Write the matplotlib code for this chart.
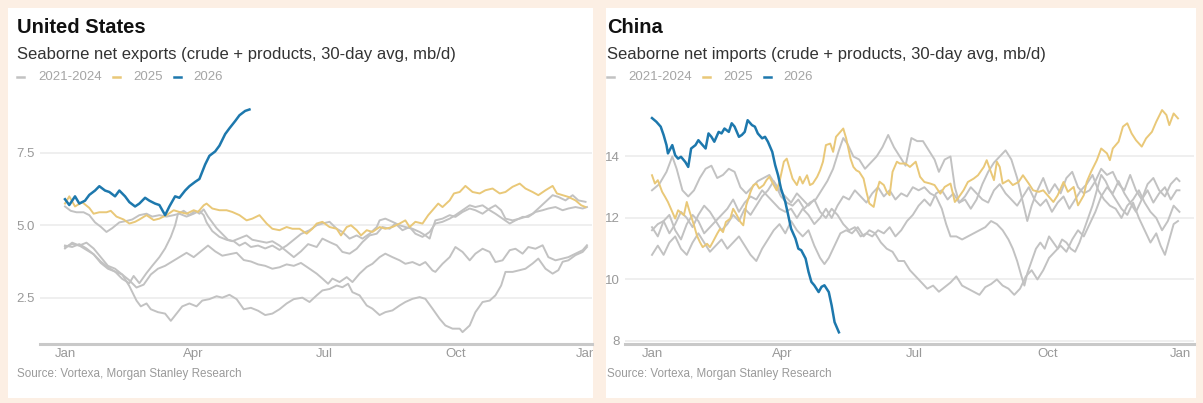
import matplotlib
matplotlib.use("Agg")
import matplotlib.pyplot as plt
from matplotlib.patches import Rectangle
from matplotlib.transforms import Bbox, TransformedBbox

plt.rcParams['font.family'] = ['Liberation Sans', 'DejaVu Sans']

# ---------------- data (day of year, value) ----------------
month_ticks = [0, 90, 181, 273, 365]
month_labels = ['Jan', 'Apr', 'Jul', 'Oct', 'Jan']
legend_labels = ['2021-2024', '2025', '2026']

# United States, seaborne net exports, mb/d
us_2026_days = [0, 3, 7, 10, 14, 17, 21, 24, 28, 31, 35, 38, 42, 45, 49, 52, 56, 59, 63, 66, 70, 73,
                77, 80, 84, 87, 91, 94, 98, 101, 105, 108, 112, 115, 119, 122, 126, 129]
us_2026 = [5.9, 5.7, 6.0, 5.75, 5.85, 6.05, 6.2, 6.35, 6.2, 6.15, 6.0, 6.2, 6.0, 5.8, 5.65, 5.75, 5.95,
           5.85, 5.75, 5.7, 5.35, 5.65, 6.0, 5.95, 6.2, 6.35, 6.5, 6.6, 7.1, 7.4, 7.55, 7.75, 8.15, 8.35,
           8.6, 8.8, 8.95, 9.0]

us_2025_days = [0, 3, 7, 12, 17, 20, 24, 29, 32, 36, 41, 45, 49, 52, 57, 62, 66, 71, 76, 80, 85, 90, 93,
                97, 99, 103, 108, 113, 117, 122, 127, 131, 136, 141, 145, 150, 155, 159, 164, 169,
                173, 176, 180, 185, 190, 193, 197, 200, 204, 207, 211, 215, 220, 224, 229, 234, 238,
                241, 245, 250, 254, 257, 261, 264, 269, 272, 276, 280, 285, 290, 294, 299, 304, 308,
                313, 318, 322, 327, 331, 336, 341, 344, 348, 352, 357, 361, 364]
us_2025 = [5.75, 6.0, 5.65, 5.8, 5.6, 5.4, 5.45, 5.45, 5.5, 5.3, 5.2, 5.06, 5.12, 5.2, 5.35, 5.18, 5.23,
           5.35, 5.52, 5.46, 5.4, 5.52, 5.46, 5.69, 5.75, 5.58, 5.52, 5.52, 5.46, 5.35, 5.17, 5.23,
           5.35, 5.06, 4.88, 4.83, 4.94, 4.88, 4.88, 4.71, 4.88, 5.06, 5.12, 4.94, 4.88, 4.65, 4.94,
           5.0, 4.83, 4.65, 4.83, 4.77, 4.94, 4.88, 4.94, 5.06, 5.17, 4.94, 5.12, 5.06, 5.35, 5.52,
           5.75, 5.63, 5.86, 6.1, 6.15, 6.36, 6.15, 6.1, 6.21, 6.27, 6.1, 6.15, 6.33, 6.44, 6.27, 6.15,
           6.04, 6.21, 6.36, 6.1, 6.04, 5.98, 5.86, 5.69, 5.63]

us_2021_days = [0, 4, 8, 13, 17, 21, 25, 29, 33, 38, 43, 47, 52, 57, 61, 66, 71, 76, 80, 85, 90, 94, 97,
                99, 103, 108, 113, 117, 122, 127, 131, 136, 141, 145, 150, 155, 160, 165, 170, 176,
                180, 185, 190, 194, 199, 204, 208, 213, 218, 222, 227, 231, 236, 241, 245, 250, 255,
                259, 264, 269, 273, 278, 283, 287, 292, 297, 301, 306, 311, 315, 320, 324, 329, 334,
                338, 343, 348, 352, 357, 362, 365]
us_2021 = [5.65, 5.5, 5.45, 5.45, 5.35, 5.1, 4.95, 4.77, 4.9, 5.1, 5.15, 5.2, 5.35, 5.4, 5.3, 5.35, 5.3,
           5.35, 5.4, 5.3, 5.4, 5.5, 5.35, 5.1, 4.8, 4.6, 4.5, 4.45, 4.55, 4.65, 4.5, 4.45, 4.4, 4.45,
           4.3, 4.1, 3.9, 4.1, 4.35, 4.25, 4.54, 4.42, 4.31, 4.08, 4.02, 4.19, 4.42, 4.65, 4.71, 4.94,
           4.88, 5.06, 4.83, 4.94, 4.71, 4.6, 4.77, 5.06, 5.12, 5.23, 5.35, 5.52, 5.69, 5.63, 5.69,
           5.52, 5.4, 5.23, 5.06, 5.17, 5.29, 5.29, 5.46, 5.52, 5.58, 5.63, 5.52, 5.58, 5.63, 5.58,
           5.63]

us_2022_days = [0, 5, 10, 15, 20, 25, 30, 35, 40, 45, 48, 52, 57, 61, 66, 70, 74, 77, 79, 83, 87, 91, 94,
                97, 100, 103, 106, 110, 114, 118, 122, 126, 130, 135, 140, 145, 150, 155, 160, 165,
                171, 176, 180, 185, 190, 194, 199, 204, 208, 213, 218, 220, 224, 229, 234, 238, 243,
                248, 252, 255, 257, 259, 264, 269, 273, 278, 283, 287, 292, 297, 301, 305, 308, 313,
                318, 322, 327, 331, 336, 341, 345, 350, 355, 359, 364]
us_2022 = [4.25, 4.35, 4.3, 4.15, 4.0, 3.7, 3.5, 3.4, 3.15, 3.0, 3.25, 3.0, 3.35, 3.6, 3.9, 4.2, 4.6,
           5.0, 5.4, 5.5, 5.35, 5.5, 5.4, 5.55, 5.3, 5.1, 4.9, 4.7, 4.5, 4.45, 4.3, 4.4, 4.25, 4.3,
           4.2, 4.3, 4.15, 4.3, 4.5, 4.7, 4.83, 5.0, 5.06, 5.12, 4.88, 4.77, 4.54, 4.65, 4.54, 4.71,
           4.94, 5.17, 5.23, 5.12, 5.0, 4.94, 4.88, 4.77, 4.65, 4.54, 4.88, 5.17, 5.23, 5.35, 5.29,
           5.46, 5.58, 5.52, 5.4, 5.58, 5.69, 5.52, 5.23, 5.17, 5.23, 5.29, 5.4, 5.58, 5.81, 6.04,
           5.98, 5.86, 6.04, 5.86, 5.81]

us_2023_days = [0, 5, 10, 15, 20, 25, 30, 35, 40, 45, 50, 53, 57, 60, 65, 70, 74, 78, 82, 87, 92, 96,
                101, 106, 110, 115, 120, 125, 130, 135, 140, 145, 150, 155, 160, 166, 171, 176, 180,
                185, 190, 194, 198, 201, 206, 211, 215, 220, 224, 229, 234, 238, 243, 248, 252, 257,
                262, 266, 271, 276, 278, 283, 287, 292, 297, 301, 305, 308, 313, 318, 322, 327, 331,
                336, 341, 345, 348, 352, 357, 362, 365]
us_2023 = [4.2, 4.4, 4.3, 4.4, 4.2, 3.9, 3.6, 3.5, 3.3, 2.9, 2.4, 2.2, 2.3, 2.1, 2.0, 1.95, 1.7, 1.95,
           2.2, 2.3, 2.2, 2.4, 2.45, 2.55, 2.5, 2.6, 2.45, 2.1, 2.15, 2.05, 1.9, 1.95, 2.1, 2.3, 2.45,
           2.5, 2.35, 2.58, 2.75, 2.8, 2.92, 2.86, 2.98, 2.69, 2.58, 2.23, 2.12, 1.9, 2.0, 2.06, 2.23,
           2.35, 2.46, 2.52, 2.46, 2.12, 1.77, 1.54, 1.43, 1.43, 1.31, 1.54, 2.0, 2.35, 2.4, 2.58,
           2.92, 3.39, 3.39, 3.45, 3.5, 3.68, 3.85, 3.5, 3.33, 3.45, 3.74, 3.79, 3.97, 4.08, 4.25]

us_2024_days = [0, 5, 10, 15, 20, 25, 30, 35, 40, 45, 50, 55, 60, 65, 70, 75, 80, 85, 90, 95, 100, 105,
                110, 115, 120, 125, 130, 135, 140, 145, 150, 155, 160, 165, 171, 176, 180, 184, 187,
                192, 197, 201, 206, 211, 215, 220, 224, 229, 234, 238, 243, 248, 252, 257, 259, 264,
                269, 273, 278, 283, 287, 292, 297, 301, 306, 311, 315, 320, 324, 329, 334, 338, 343,
                348, 352, 357, 362, 365]
us_2024 = [4.3, 4.25, 4.35, 4.2, 4.0, 3.75, 3.55, 3.4, 3.3, 3.1, 2.85, 2.95, 3.3, 3.5, 3.6, 3.75, 3.9,
           4.05, 3.9, 4.1, 4.3, 4.1, 3.95, 4.0, 4.05, 3.8, 3.75, 3.65, 3.6, 3.5, 3.55, 3.65, 3.6, 3.7,
           3.5, 3.33, 3.16, 2.98, 3.16, 3.04, 3.21, 3.04, 3.33, 3.56, 3.67, 3.9, 4.02, 3.9, 3.79, 3.67,
           3.73, 3.62, 3.73, 3.44, 3.39, 3.67, 3.9, 4.25, 4.08, 3.79, 4.02, 4.19, 4.08, 3.73, 3.79,
           4.14, 4.19, 4.02, 4.25, 4.19, 4.31, 3.9, 3.79, 3.85, 3.9, 4.02, 4.14, 4.31]

# China, seaborne net imports, mb/d
cn_2026_days = [0, 3, 6, 8, 10, 11, 14, 16, 18, 20, 23, 25, 27, 30, 32, 34, 37, 39, 41, 43, 46, 48, 50,
                53, 55, 57, 60, 62, 64, 66, 69, 71, 73, 76, 78, 80, 83, 85, 87, 89, 92, 94, 96, 99,
                101, 103, 106, 108, 110, 112, 115, 117, 119, 122, 124, 126, 129]
cn_2026 = [15.25, 15.13, 14.97, 14.7, 14.37, 14.1, 14.37, 14.04, 13.93, 13.99, 13.82, 13.66, 14.26,
           14.37, 14.53, 14.42, 14.26, 14.75, 14.64, 14.48, 14.8, 14.75, 14.91, 14.8, 15.08, 14.97,
           14.64, 14.7, 14.8, 15.18, 15.02, 14.97, 14.75, 14.59, 14.64, 14.48, 14.15, 13.72, 13.39,
           12.96, 12.52, 12.09, 11.65, 11.33, 11.0, 10.95, 10.68, 10.25, 9.92, 9.81, 9.59, 9.76, 9.81,
           9.59, 9.15, 8.61, 8.28]

cn_2025_days = [0, 2, 4, 7, 9, 11, 14, 16, 18, 22, 24, 26, 29, 31, 33, 35, 38, 40, 42, 45, 47, 49, 51,
                54, 56, 58, 61, 63, 65, 68, 70, 72, 74, 77, 79, 81, 84, 86, 88, 91, 93, 95, 97, 100,
                102, 104, 107, 109, 111, 114, 116, 118, 120, 123, 125, 127, 130, 132, 134, 137, 139,
                141, 143, 146, 148, 150, 153, 155, 157, 160, 162, 164, 166, 169, 171, 175, 178, 182,
                185, 188, 192, 195, 199, 202, 206, 209, 211, 215, 218, 222, 225, 229, 231, 233, 236,
                238, 240, 242, 246, 249, 253, 256, 260, 263, 267, 270, 273, 277, 280, 284, 287, 291,
                294, 298, 300, 303, 307, 310, 314, 316, 318, 322, 325, 328, 331, 334, 338, 341, 345,
                348, 352, 355, 357, 360, 363]
cn_2025 = [13.39, 13.12, 13.23, 12.85, 12.69, 12.52, 12.2, 11.98, 12.25, 12.09, 12.52, 12.2, 11.76,
           11.43, 11.22, 11.05, 11.16, 11.05, 11.22, 11.49, 11.65, 11.54, 11.87, 11.98, 12.3, 12.14,
           11.87, 11.76, 12.41, 12.85, 13.07, 13.12, 12.96, 13.07, 13.23, 13.34, 13.07, 12.9, 13.18,
           13.83, 13.93, 13.61, 13.28, 13.07, 13.34, 13.12, 13.39, 13.07, 13.12, 13.34, 13.55, 13.83,
           14.37, 14.42, 14.15, 14.64, 14.8, 14.91, 14.59, 13.93, 13.66, 13.55, 13.5, 13.28, 12.85,
           12.47, 12.36, 12.85, 13.18, 13.07, 12.85, 12.74, 13.5, 13.83, 13.77, 13.77, 13.66, 13.83,
           13.34, 13.17, 13.12, 13.07, 12.79, 13.01, 13.12, 12.52, 12.63, 12.9, 13.17, 13.28, 13.39,
           13.66, 13.88, 13.61, 13.23, 13.83, 13.66, 13.12, 13.23, 13.07, 13.17, 13.39, 13.12, 12.9,
           12.85, 12.9, 12.74, 12.52, 12.74, 13.17, 12.85, 13.01, 12.41, 12.74, 13.17, 13.5, 13.88,
           14.26, 14.1, 13.88, 14.26, 14.48, 14.97, 15.08, 14.75, 14.53, 14.32, 14.59, 14.8, 15.13,
           15.51, 15.35, 15.02, 15.4, 15.24]

cn_2021_days = [0, 5, 10, 14, 17, 21, 25, 29, 33, 37, 41, 45, 49, 53, 57, 61, 65, 69, 73, 77, 81, 85,
                89, 93, 97, 101, 105, 109, 113, 117, 121, 125, 129, 132, 135, 139, 143, 147, 151, 155,
                159, 163, 167, 171, 175, 179, 183, 187, 191, 195, 198, 202, 206, 209, 212, 216, 220,
                224, 228, 232, 236, 240, 244, 248, 252, 256, 259, 262, 266, 270, 274, 278, 282, 286,
                290, 294, 298, 302, 306, 310, 314, 318, 322, 326, 330, 334, 338, 342, 346, 350, 354,
                358, 362, 364]
cn_2021 = [12.9, 13.1, 13.5, 14.0, 13.6, 12.9, 12.7, 12.9, 13.3, 13.6, 13.7, 13.3, 13.4, 13.6, 13.5,
           13.0, 12.8, 13.0, 13.2, 13.3, 13.4, 13.1, 12.7, 12.5, 12.4, 12.6, 12.3, 12.5, 12.6, 12.9,
           13.2, 13.6, 14.2, 14.6, 14.4, 14.0, 13.9, 13.6, 13.8, 14.0, 14.3, 14.7, 14.3, 14.0, 13.7,
           14.6, 14.5, 14.5, 14.2, 13.9, 13.5, 13.9, 14.0, 13.0, 12.5, 12.6, 12.3, 12.6, 13.1, 13.5,
           13.8, 14.0, 14.2, 13.9, 13.3, 12.5, 11.9, 12.4, 12.9, 13.3, 12.8, 13.1, 12.8, 13.3, 13.5,
           13.0, 12.8, 12.9, 13.2, 13.6, 13.4, 13.5, 13.1, 12.9, 13.4, 12.9, 12.6, 13.1, 13.3, 12.9,
           12.7, 13.1, 13.3, 13.2]

cn_2022_days = [0, 4, 8, 12, 16, 20, 24, 28, 32, 36, 40, 44, 48, 52, 56, 60, 64, 68, 72, 76, 80, 84, 88,
                92, 96, 100, 104, 108, 112, 116, 120, 124, 128, 132, 136, 140, 144, 148, 152, 156,
                160, 164, 168, 172, 176, 180, 184, 188, 192, 196, 200, 203, 206, 210, 214, 218, 222,
                226, 230, 234, 238, 242, 246, 249, 252, 255, 257, 259, 262, 265, 268, 271, 274, 277,
                280, 283, 286, 289, 292, 295, 298, 301, 304, 307, 310, 313, 316, 320, 324, 328, 332,
                336, 340, 344, 348, 351, 354, 357, 360, 363]
cn_2022 = [11.6, 11.8, 11.9, 11.5, 11.8, 12.2, 12.0, 11.7, 12.1, 12.4, 12.2, 11.9, 12.1, 12.3, 12.6,
           12.2, 12.5, 12.7, 12.6, 12.9, 12.7, 12.5, 12.3, 12.2, 12.3, 12.0, 12.3, 12.1, 11.8, 12.0,
           12.3, 12.0, 12.4, 12.7, 12.6, 12.9, 12.7, 12.5, 12.8, 13.0, 12.7, 12.9, 12.6, 12.8, 12.7,
           13.0, 12.9, 13.0, 12.8, 12.7, 12.3, 11.8, 11.4, 11.4, 11.3, 11.4, 11.5, 11.6, 11.7, 11.9,
           11.8, 11.6, 11.3, 11.0, 10.6, 10.1, 9.8, 10.2, 10.6, 11.0, 11.2, 11.0, 11.4, 11.2, 11.0,
           11.3, 11.2, 11.0, 10.9, 11.2, 11.6, 12.0, 12.4, 12.9, 13.4, 13.2, 12.9, 12.6, 12.3, 12.1,
           12.5, 12.0, 11.6, 11.2, 11.5, 11.1, 10.8, 11.3, 11.8, 11.9]

cn_2023_days = [0, 4, 8, 12, 16, 20, 24, 28, 32, 36, 40, 44, 48, 52, 56, 60, 64, 68, 72, 76, 80, 84, 88,
                92, 96, 100, 104, 108, 112, 116, 120, 124, 128, 132, 136, 140, 144, 148, 152, 156,
                160, 164, 168, 172, 176, 180, 184, 188, 192, 196, 200, 204, 208, 212, 216, 220, 224,
                228, 232, 236, 240, 244, 248, 252, 256, 260, 264, 268, 272, 276, 280, 284, 288, 292,
                296, 300, 304, 308, 312, 316, 320, 324, 328, 332, 336, 340, 344, 348, 352, 356, 360,
                364]
cn_2023 = [11.7, 11.4, 11.9, 12.1, 11.6, 11.3, 11.8, 12.1, 11.9, 11.5, 11.7, 11.9, 11.6, 11.8, 12.1,
           11.9, 12.3, 12.1, 12.4, 12.7, 12.9, 13.2, 12.9, 12.7, 12.5, 12.8, 12.6, 12.4, 12.6, 12.2,
           12.0, 12.3, 12.1, 11.8, 11.6, 11.7, 11.4, 11.5, 11.4, 11.6, 11.5, 11.7, 11.4, 11.6, 11.9,
           12.1, 12.4, 12.6, 12.4, 12.8, 12.9, 12.6, 12.8, 12.5, 12.7, 13.0, 12.8, 12.6, 12.5, 12.9,
           13.1, 12.8, 12.6, 12.4, 12.7, 13.0, 12.6, 12.4, 12.6, 12.2, 12.5, 12.7, 12.3, 12.6, 12.9,
           13.1, 13.4, 12.9, 12.6, 12.4, 12.3, 12.0, 12.4, 12.6, 12.9, 12.5, 12.2, 12.0, 11.6, 11.9,
           12.4, 12.2]

cn_2024_days = [0, 4, 8, 12, 16, 20, 24, 28, 32, 36, 40, 44, 48, 52, 56, 60, 64, 68, 72, 76, 80, 84, 88,
                92, 96, 100, 104, 108, 112, 116, 119, 122, 126, 130, 134, 138, 142, 146, 150, 154,
                158, 162, 166, 170, 174, 178, 182, 186, 190, 194, 198, 202, 206, 210, 214, 218, 222,
                226, 230, 234, 238, 242, 246, 250, 254, 258, 262, 266, 270, 274, 278, 282, 286, 290,
                294, 298, 302, 306, 310, 314, 318, 322, 326, 330, 334, 338, 342, 346, 350, 354, 358,
                362, 364]
cn_2024 = [10.8, 11.1, 10.8, 11.2, 11.4, 11.0, 10.8, 11.2, 11.5, 11.2, 10.9, 11.1, 11.3, 11.0, 11.2,
           11.4, 11.1, 10.8, 10.6, 11.0, 11.3, 11.6, 11.8, 11.5, 11.9, 11.6, 11.4, 11.6, 11.1, 10.7,
           10.5, 10.7, 11.1, 11.5, 11.6, 11.5, 11.7, 11.4, 11.6, 11.5, 11.2, 11.0, 10.9, 10.6, 10.6,
           10.3, 10.1, 9.9, 9.7, 9.8, 9.6, 9.75, 9.9, 10.1, 9.8, 9.7, 9.6, 9.5, 9.75, 9.85, 10.0, 9.8,
           9.7, 9.5, 9.7, 10.1, 10.3, 10.0, 10.3, 10.7, 10.9, 11.1, 10.9, 11.3, 11.6, 11.4, 11.8,
           12.2, 12.7, 13.0, 12.8, 13.2, 12.8, 12.5, 12.2, 12.6, 12.9, 12.5, 12.8, 13.0, 12.6, 12.9,
           12.9]

us_grey = [(us_2021_days, us_2021), (us_2022_days, us_2022), (us_2023_days, us_2023), (us_2024_days, us_2024)]
cn_grey = [(cn_2021_days, cn_2021), (cn_2022_days, cn_2022), (cn_2023_days, cn_2023), (cn_2024_days, cn_2024)]

# ---------------- style ----------------
W, H = 1203, 403
BG = '#fcefe4'
GREY_LINE = '#c2c2c2'
YELLOW = '#e9c878'
BLUE = '#1d78ad'
TICK_COL = '#999999'

fig = plt.figure(figsize=(W / 100, H / 100), dpi=100, facecolor=BG)


def fig_rect(x0, y0, x1, y1):
    # pixel box (top-left origin) -> figure fraction [l, b, w, h]
    return [x0 / W, 1 - y1 / H, (x1 - x0) / W, (y1 - y0) / H]


def fig_text(x, y, s, clip=None, **kw):
    t = fig.text(x / W, 1 - y / H, s, **kw)
    if clip is not None:
        t.set_clip_box(clip)
        t.set_clip_on(True)
    return t


def panel(x0, x1):
    r = fig_rect(x0, 8, x1, 398)
    fig.add_artist(Rectangle((r[0], r[1]), r[2], r[3], transform=fig.transFigure,
                             facecolor='white', edgecolor='none', zorder=0))
    return TransformedBbox(Bbox([[r[0], r[1]], [r[0] + r[2], r[1] + r[3]]]), fig.transFigure)


def draw(px, clip, title, subtitle, greys, yellow, blue, ylim, yticks, ytick_labels, day0, px_day, ax_x0, ax_x1):
    ax = fig.add_axes(fig_rect(ax_x0, 95, ax_x1, 344))
    ax.set_facecolor('none')
    for d, v in greys:
        ax.plot(d, v, color=GREY_LINE, lw=1.4, zorder=2)
    ax.plot(yellow[0], yellow[1], color=YELLOW, lw=1.4, zorder=3)
    ax.plot(blue[0], blue[1], color=BLUE, lw=1.8, zorder=4)

    ax.set_xlim((ax_x0 - day0) / px_day, (ax_x1 - day0) / px_day)
    ax.set_ylim(*ylim)
    ax.set_xticks(month_ticks)
    ax.set_xticklabels(month_labels)
    ax.set_yticks(yticks)
    ax.set_yticklabels(ytick_labels)
    ax.tick_params(axis='both', length=0, colors=TICK_COL, labelsize=9.5)
    ax.tick_params(axis='y', pad=4)
    ax.tick_params(axis='x', pad=3)
    ax.grid(axis='y', color='#ebebeb', lw=1.1, zorder=1)
    for s in ['top', 'right', 'left']:
        ax.spines[s].set_visible(False)
    ax.spines['bottom'].set_color('#c9c9c9')
    ax.spines['bottom'].set_linewidth(2.2)
    for tk in ax.xaxis.get_major_ticks() + ax.yaxis.get_major_ticks():
        tk.label1.set_clip_box(clip)
        tk.label1.set_clip_on(True)

    fig_text(px + 9, 33, title, clip, fontsize=14.5, fontweight='bold', color='#111111', va='baseline')
    fig_text(px + 9, 59, subtitle, clip, fontsize=12, color='#333333', va='baseline')
    # legend row
    colors = [GREY_LINE, YELLOW, BLUE]
    lab_x = [px + 30, px + 125, px + 185]
    seg_x = [px + 9, px + 105, px + 166]
    for lx, sx, c, lab in zip(lab_x, seg_x, colors, legend_labels):
        ln = plt.Line2D([sx / W, (sx + 7) / W], [1 - 77 / H, 1 - 77 / H], transform=fig.transFigure,
                        color=c, lw=1.8)
        ln.set_clip_box(clip)
        ln.set_clip_on(True)
        fig.add_artist(ln)
        fig_text(lx, 77, lab, clip, fontsize=9.5, color='#a5a5a5', va='center')
    fig_text(px + 9, 374, 'Source: Vortexa, Morgan Stanley Research', clip, fontsize=8.4,
             color='#9a9a9a', va='center')
    return ax


clip_us = panel(8, 593)
clip_cn = panel(606, 1196)

draw(8, clip_us, 'United States', 'Seaborne net exports (crude + products, 30-day avg, mb/d)',
     us_grey, (us_2025_days, us_2025), (us_2026_days, us_2026),
     (0.9, 9.5), [2.5, 5.0, 7.5], ['2.5', '5.0', '7.5'], 65, 1.43, 40, 592)

draw(598, clip_cn, 'China', 'Seaborne net imports (crude + products, 30-day avg, mb/d)',
     cn_grey, (cn_2025_days, cn_2025), (cn_2026_days, cn_2026),
     (7.9, 16.0), [8, 10, 12, 14], ['8', '10', '12', '14'], 652, 1.449, 625, 1194)

fig.savefig('out.png', dpi=100, facecolor=BG)
